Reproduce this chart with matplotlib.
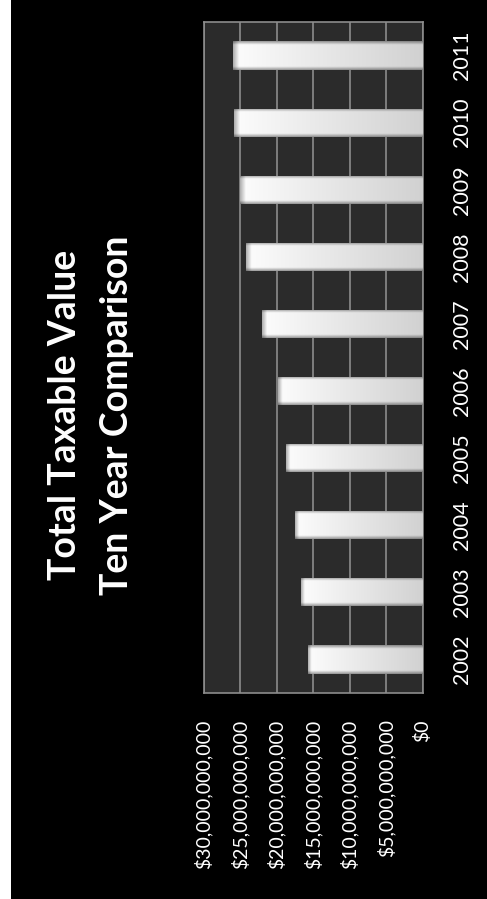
import numpy as np
import matplotlib
matplotlib.use("Agg")
import matplotlib.pyplot as plt
from matplotlib.ticker import FuncFormatter

plt.rcParams['font.family'] = ['Lato', 'DejaVu Sans']

# Total taxable value by year (dollars)
years = ['2002', '2003', '2004', '2005', '2006', '2007', '2008', '2009', '2010', '2011']
values = [15.7e9, 16.7e9, 17.5e9, 18.7e9, 19.8e9, 22.0e9, 24.2e9, 25.0e9, 25.8e9, 25.95e9]
value_ticks = [0, 5e9, 10e9, 15e9, 20e9, 25e9, 30e9]
title_lines = ['Total Taxable Value', 'Ten Year Comparison']

W, H = 487, 899
fig = plt.figure(figsize=(W / 100, H / 100), dpi=100, facecolor='black')

# thin white strip on the left edge of the slide
fig.patches.append(plt.Rectangle((0, 0), 11 / W, 1, transform=fig.transFigure,
                                 facecolor='white', edgecolor='none', zorder=-5))

ax = fig.add_axes([203.5 / W, 1 - 693 / H, (422.5 - 203.5) / W, (693 - 22) / H])
ax.set_facecolor('#2b2b2b')

ypos = np.arange(len(years))
bar_h = 0.42
ax.set_xlim(30e9, 0)
ax.set_ylim(-0.5, len(years) - 0.5)

# bar shading: brighter toward the far end, bevelled edges across the thickness
nl, nt = 200, 60
t = np.linspace(0, 1, nl)[None, :]
s = np.linspace(0, 1, nt)[:, None]
edge = np.clip(1 - np.minimum(s, 1 - s) / 0.12, 0, 1)
for yi, v in zip(ypos, values):
    bars = ax.barh(yi, v, height=bar_h, color='none', edgecolor='none', zorder=3)
    patch = bars.patches[0]
    base = 0.82 + 0.17 * t
    # darken the rounded tip at the far end
    tip = np.clip(1 - (1 - t) / 0.03, 0, 1)
    shade = base * (1 - 0.38 * edge) * (1 - 0.30 * tip)
    img = np.dstack([shade, shade, shade])
    im = ax.imshow(img, extent=(0, v, yi - bar_h / 2, yi + bar_h / 2), origin='lower',
                   aspect='auto', interpolation='bilinear', zorder=3)
    im.set_clip_path(patch)

ax.set_xticks(value_ticks)
ax.xaxis.set_major_formatter(FuncFormatter(lambda x, p: '${:,.0f}'.format(x)))
ax.grid(axis='x', color='#8c8c8c', linewidth=1.2, zorder=1)
ax.set_axisbelow(True)
ax.tick_params(axis='x', length=0, pad=19, labelsize=14, labelcolor='white', labelrotation=90)
for lbl in ax.get_xticklabels():
    lbl.set_va('top')
    lbl.set_ha('center')

ax.set_yticks(ypos)
ax.set_yticklabels(years)
ax.yaxis.tick_right()
ax.tick_params(axis='y', length=0, pad=21, labelsize=15.5, labelcolor='white', labelrotation=90)
for lbl in ax.get_yticklabels():
    lbl.set_va('center')
    lbl.set_ha('left')

for sp in ax.spines.values():
    sp.set_color('#8c8c8c')
    sp.set_linewidth(1.2)

for xpix, line in zip([65, 117], title_lines):
    fig.text(xpix / W, 1 - 415 / H, line, rotation=90, ha='center', va='center',
             color='white', fontsize=27, fontweight='bold')

fig.savefig('out.png', dpi=100, facecolor='black')
